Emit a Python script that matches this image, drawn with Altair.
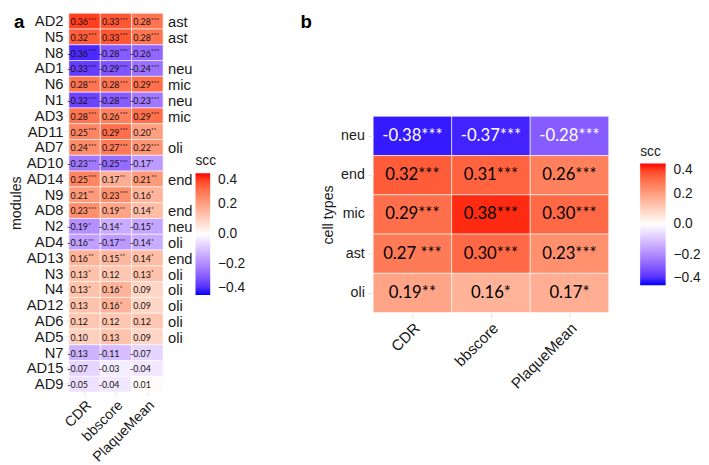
import altair as alt
import pandas as pd

# ---------------- data ----------------
traits = ["CDR", "bbscore", "PlaqueMean"]

modules = ["AD2", "N5", "N8", "AD1", "N6", "N1", "AD3", "AD11", "AD7", "AD10",
           "AD14", "N9", "AD8", "N2", "AD4", "AD13", "N3", "N4", "AD12", "AD6",
           "AD5", "N7", "AD15", "AD9"]
module_types = ["ast", "ast", "", "neu", "mic", "neu", "mic", "", "oli", "",
                "end", "", "end", "neu", "oli", "end", "oli", "oli", "oli", "oli",
                "oli", "", "", ""]

a_cdr = [0.36, 0.32, -0.36, -0.33, 0.28, -0.32, 0.28, 0.25, 0.24, -0.23,
         0.25, 0.21, 0.23, -0.19, -0.16, 0.16, 0.13, 0.13, 0.13, 0.12,
         0.10, -0.13, -0.07, -0.05]
a_cdr_sig = ["***", "***", "***", "***", "***", "***", "***", "***", "***", "***",
             "***", "**", "***", "*", "**", "**", "*", "*", "", "",
             "", "", "", ""]
a_bb = [0.33, 0.33, -0.28, -0.29, 0.28, -0.28, 0.26, 0.29, 0.27, -0.25,
        0.17, 0.23, 0.19, -0.14, -0.17, 0.15, 0.12, 0.16, 0.16, 0.12,
        0.13, -0.11, -0.03, -0.04]
a_bb_sig = ["***", "***", "***", "***", "***", "***", "***", "***", "***", "***",
            "**", "***", "**", "*", "**", "**", "", "*", "*", "",
            "", "", "", ""]
a_pm = [0.28, 0.28, -0.26, -0.24, 0.29, -0.23, 0.29, 0.20, 0.22, -0.17,
        0.21, 0.16, 0.14, -0.15, -0.14, 0.14, 0.13, 0.09, 0.09, 0.12,
        0.09, -0.07, -0.04, 0.01]
a_pm_sig = ["***", "***", "***", "***", "***", "***", "***", "**", "***", "*",
            "**", "*", "*", "*", "*", "*", "*", "", "", "",
            "", "", "", ""]

celltypes = ["neu", "end", "mic", "ast", "oli"]
b_cdr = [-0.38, 0.32, 0.29, 0.27, 0.19]
b_cdr_sig = ["***", "***", "***", " ***", "**"]
b_bb = [-0.37, 0.31, 0.38, 0.30, 0.16]
b_bb_sig = ["***", "***", "***", "***", "*"]
b_pm = [-0.28, 0.26, 0.30, 0.23, 0.17]
b_pm_sig = ["***", "***", "***", "***", "*"]

legend_values = [-0.4, -0.2, 0.0, 0.2, 0.4]

# ---------------- tables ----------------
rows_a = []
for t, vals, sigs in zip(traits, [a_cdr, a_bb, a_pm], [a_cdr_sig, a_bb_sig, a_pm_sig]):
    for m, v, s in zip(modules, vals, sigs):
        rows_a.append({"module": m, "trait": t, "scc": v, "num": f"{v:.2f}", "stars": s})
df_a = pd.DataFrame(rows_a)
df_types = pd.DataFrame({"module": modules, "ctype": module_types})

rows_b = []
for t, vals, sigs in zip(traits, [b_cdr, b_bb, b_pm], [b_cdr_sig, b_bb_sig, b_pm_sig]):
    for c, v, s in zip(celltypes, vals, sigs):
        rows_b.append({"ctype": c, "trait": t, "scc": v, "label": f"{v:.2f}{s}"})
df_b = pd.DataFrame(rows_b)

AXF = "Liberation Sans"
CELLF = "Lato"
TXT = "#1a1a1a"
GRID = "#E6E6E6"


def color_scale():
    return alt.Scale(domain=[-0.4, 0.4], range=["#0000FF", "#FFFFFF", "#FF0000"],
                     interpolate="lab", type="linear", clamp=True)


def legend(x, y, thick):
    return alt.Legend(
        title="scc", orient="none", legendX=x, legendY=y, direction="vertical",
        gradientLength=124, gradientThickness=thick, gradientStrokeWidth=0,
        values=legend_values, format=".1f",
        labelExpr="replace(datum.label, '-', '\u2212')",
        titleFont=AXF, titleFontSize=14, titleFontWeight="normal", titleColor=TXT,
        titlePadding=5, labelFont=AXF, labelFontSize=14, labelColor=TXT,
        labelOffset=8, padding=0,
    )


# ---------------- panel a ----------------
xa = alt.X("trait:N", sort=traits, scale=alt.Scale(paddingInner=0, paddingOuter=0),
           axis=alt.Axis(title=None, labelAngle=-45, labelFont=AXF, labelFontSize=14.5,
                         labelColor=TXT, domain=False, tickColor=GRID, tickSize=4,
                         labelPadding=2))
ya = alt.Y("module:N", sort=modules, scale=alt.Scale(paddingInner=0, paddingOuter=0),
           axis=alt.Axis(title="modules", labelFont=AXF, labelFontSize=15, labelColor=TXT,
                         domain=False, tickColor=GRID, tickSize=4, labelPadding=2,
                         titleFont=AXF, titleFontSize=14.5, titleFontWeight="normal",
                         titleColor=TXT, titlePadding=3))

base_a = alt.Chart(df_a).encode(x=xa, y=ya)
rect_a = base_a.mark_rect(stroke="white", strokeWidth=0.6).encode(
    color=alt.Color("scc:Q", scale=color_scale(), legend=legend(129, 144, 15))
)
num_a = base_a.mark_text(align="right", baseline="middle", dx=3.5, dy=1, font=CELLF,
                         fontSize=9, color="#111").encode(text="num:N")
star_a = base_a.mark_text(align="left", baseline="middle", dx=3.8, dy=-1.5, font=CELLF,
                          fontSize=6.5, color="#111").encode(text="stars:N")
types_a = alt.Chart(df_types).mark_text(align="left", baseline="middle", font=AXF,
                                        fontSize=15, color=TXT, dy=1).encode(
    x=alt.value(101), y=alt.Y("module:N", sort=modules), text="ctype:N")
tag_a = alt.Chart(pd.DataFrame({"t": ["a"]})).mark_text(
    align="left", baseline="top", font=AXF, fontSize=19, fontWeight="bold", color="#000"
).encode(x=alt.value(-56), y=alt.value(0), text="t:N")

panel_a = alt.layer(rect_a, num_a, star_a, types_a, tag_a).properties(width=96, height=386)

# ---------------- panel b ----------------
xb = alt.X("trait:N", sort=traits, scale=alt.Scale(paddingInner=0, paddingOuter=0),
           axis=alt.Axis(title=None, labelAngle=-45, labelFont=AXF, labelFontSize=15.5,
                         labelColor=TXT, domain=False, tickColor=GRID, tickSize=5,
                         labelPadding=3))
yb = alt.Y("ctype:N", sort=celltypes,
           scale=alt.Scale(range=[105, 305], paddingInner=0, paddingOuter=0),
           axis=alt.Axis(title="cell types", labelFont=AXF, labelFontSize=14.5,
                         labelColor=TXT, domain=False, tickColor=GRID, tickSize=6,
                         labelPadding=3, titleFont=AXF, titleFontSize=14.5,
                         titleFontWeight="normal", titleColor=TXT, titlePadding=5))

base_b = alt.Chart(df_b).encode(x=xb, y=yb)
rect_b = base_b.mark_rect(stroke="white", strokeWidth=0.6).encode(
    color=alt.Color("scc:Q", scale=color_scale(), legend=legend(272, 134, 26))
)
text_b = base_b.mark_text(align="center", baseline="middle", font=CELLF, fontSize=17).encode(
    text="label:N",
    color=alt.condition("datum.scc < -0.2", alt.value("white"), alt.value("#000")),
)
tag_b = alt.Chart(pd.DataFrame({"t": ["b"]})).mark_text(
    align="left", baseline="top", font=AXF, fontSize=19, fontWeight="bold", color="#000"
).encode(x=alt.value(-74), y=alt.value(0), text="t:N")

panel_b = alt.layer(rect_b, text_b, tag_b).properties(width=240, height=305)

chart = (
    alt.hconcat(panel_a, panel_b, spacing=214, bounds="flush")
    .resolve_scale(color="independent")
    .properties(padding=0, background="white")
    .configure_view(stroke=None)
)

chart.save("out.html", embed_options={"renderer": "svg", "actions": False})
